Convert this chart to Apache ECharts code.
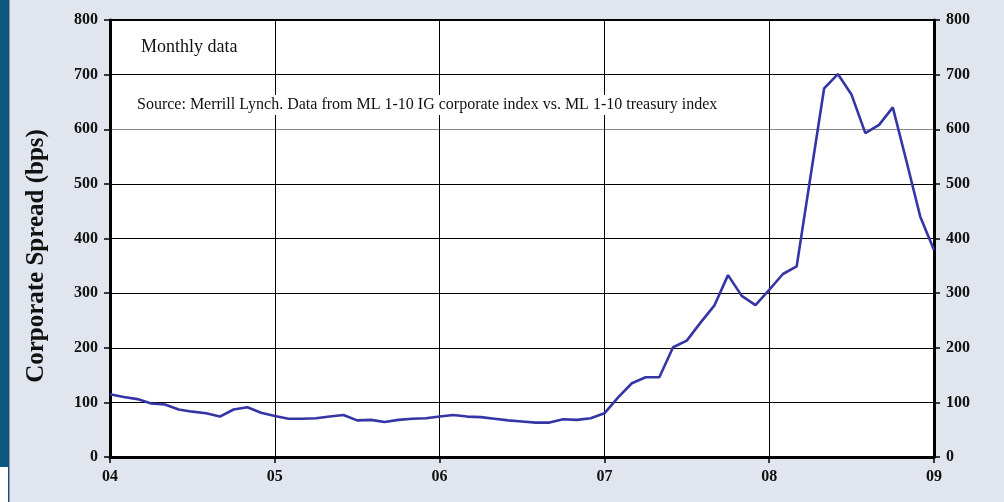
<!DOCTYPE html>
<html>
<head>
<meta charset="utf-8">
<script src="https://cdn.jsdelivr.net/npm/echarts@6/dist/echarts.min.js"></script>
<style>
  html, body { margin: 0; padding: 0; background: #e1e6ee; }
  #chart { width: 1004px; height: 502px; }
</style>
</head>
<body>
<div id="chart"></div>
<script>
// years shown on the x axis (each label sits on January)
const years = ["04", "05", "06", "07", "08", "09"];
const monthNames = ["Jan", "Feb", "Mar", "Apr", "May", "Jun", "Jul", "Aug", "Sep", "Oct", "Nov", "Dec"];

// Jan 2004 .. Jan 2009, monthly
const months = [];
years.forEach((y, i) => {
  const n = i === years.length - 1 ? 1 : 12;
  for (let m = 0; m < n; m++) months.push(monthNames[m] + "-" + y);
});

// corporate spread, bps
const spread = [
  115, 110, 106, 98, 96, 87, 83, 80, 74, 87, 91, 81,
  75, 70, 70, 71, 74, 77, 67, 68, 64, 68, 70, 71,
  74, 77, 74, 73, 70, 67, 65, 63, 63, 69, 68, 71,
  80, 109, 135, 146, 146, 201, 213, 246, 277, 333, 295, 278,
  306, 335, 349, 512, 675, 701, 663, 593, 608, 640, 541, 440,
  379
];

const yTicks = [0, 100, 200, 300, 400, 500, 600, 700, 800];

const serifBold = { fontFamily: "Liberation Serif", fontWeight: "bold", fontSize: 16, color: "#111" };
const gridColors = yTicks.map(v => (v === 600 ? "#8a8a8a" : "#000"));

const chart = echarts.init(document.getElementById("chart"));

chart.setOption({
  backgroundColor: "#e1e6ee",
  animation: false,
  grid: {
    left: 110, right: 70, top: 20, bottom: 45,
    show: true, backgroundColor: "#fff", borderColor: "#000", borderWidth: 2
  },
  graphic: [
    { type: "rect", shape: { x: 0, y: 0, width: 8, height: 467 }, style: { fill: "#0b5880" } },
    { type: "rect", shape: { x: 0, y: 467, width: 8, height: 35 }, style: { fill: "#fff" } },
    { type: "rect", shape: { x: 8, y: 0, width: 1.5, height: 502 }, style: { fill: "#1f4f78" } },
    {
      type: "text", x: 37, y: 256, rotation: Math.PI / 2,
      style: {
        text: "Corporate Spread (bps)", font: "bold 25px 'Liberation Serif'", fill: "#111",
        align: "center", verticalAlign: "middle"
      }
    },
    {
      type: "text", left: 139, top: 37, z: 10,
      style: { text: "Monthly data", font: "18px 'Liberation Serif'", fill: "#111", backgroundColor: "#fff", padding: [1, 2] }
    },
    {
      type: "text", left: 135, top: 95, z: 10,
      style: {
        text: "Source: Merrill Lynch. Data from ML 1-10 IG corporate index vs. ML 1-10 treasury index",
        font: "16px 'Liberation Serif'", fill: "#111", backgroundColor: "#fff", padding: [2, 2]
      }
    }
  ],
  xAxis: {
    type: "category",
    data: months,
    boundaryGap: false,
    axisLine: { lineStyle: { color: "#000", width: 3 } },
    axisTick: { interval: 11, length: 6, lineStyle: { color: "#000", width: 1.5 } },
    axisLabel: {
      interval: 11, margin: 12, ...serifBold,
      formatter: v => v.split("-")[1]
    },
    splitLine: { show: true, interval: 11, lineStyle: { color: "#000", width: 1 } }
  },
  yAxis: [
    {
      type: "value", min: 0, max: 800, interval: 100,
      axisLine: { show: true, lineStyle: { color: "#000", width: 3 } },
      axisTick: { show: true, length: 6, lineStyle: { color: "#000", width: 1.5 } },
      axisLabel: { margin: 12, ...serifBold },
      splitLine: { show: true, lineStyle: { color: gridColors, width: 1 } }
    },
    {
      type: "value", min: 0, max: 800, interval: 100, position: "right",
      axisLine: { show: true, lineStyle: { color: "#000", width: 3 } },
      axisTick: { show: true, length: 6, lineStyle: { color: "#000", width: 1.5 } },
      axisLabel: { margin: 12, ...serifBold },
      splitLine: { show: false }
    }
  ],
  series: [
    {
      type: "line",
      data: spread,
      symbol: "none",
      lineStyle: { color: "#3535a5", width: 2.6 },
      z: 5
    }
  ]
});
</script>
</body>
</html>
